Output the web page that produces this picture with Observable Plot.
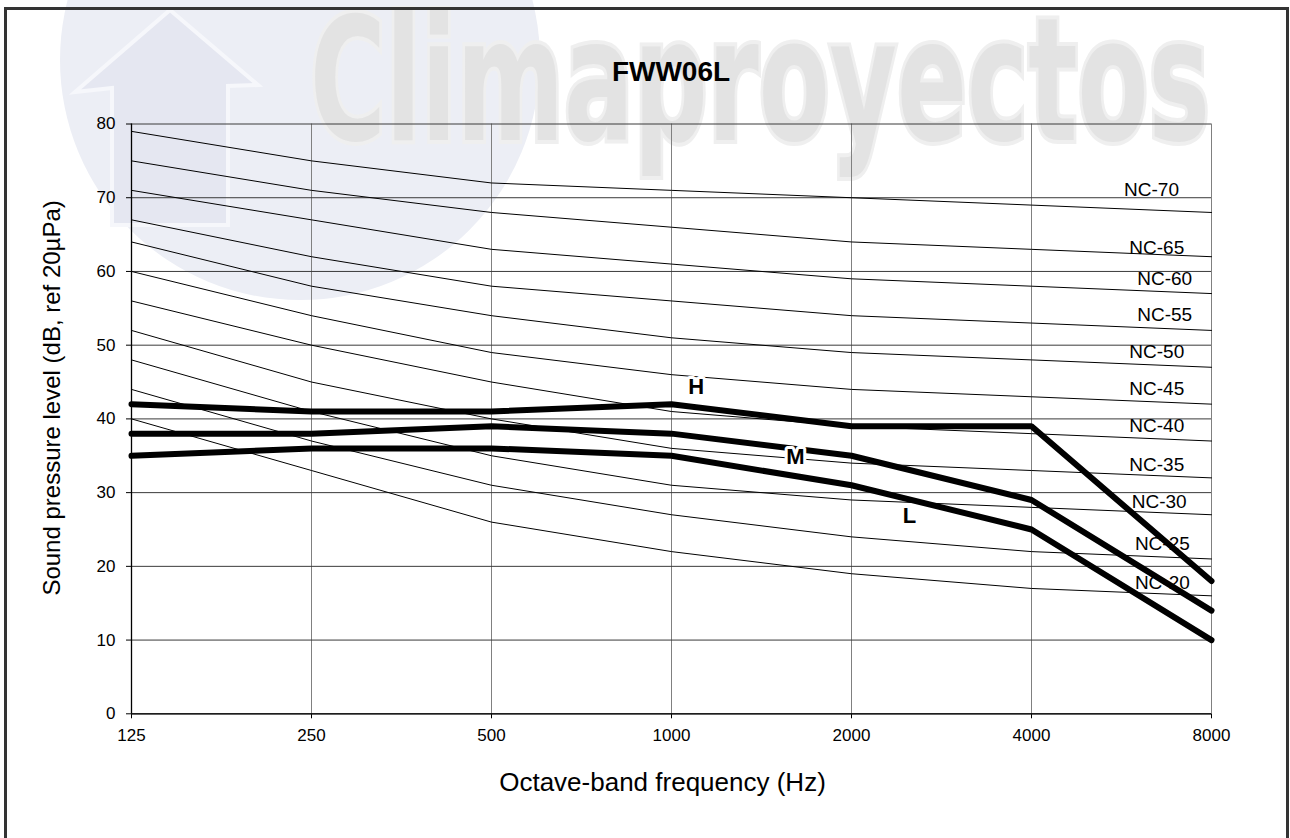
<!DOCTYPE html>
<html>
<head>
<meta charset="utf-8">
<script src="https://cdn.jsdelivr.net/npm/d3@7"></script>
<script src="https://cdn.jsdelivr.net/npm/@observablehq/plot@0.6"></script>
<style>
  body { margin: 0; background: #fff; }
  #wrap { position: relative; width: 1290px; height: 838px; overflow: hidden; font-family: "Liberation Sans", Arial, sans-serif; background: #fff; }
  #bg { position: absolute; left: 0; top: 0; }
  #frame { position: absolute; left: 4px; top: 7px; width: 1285px; height: 900px; border: 3px solid #333; box-sizing: border-box; }
  #title { position: absolute; left: 471px; width: 400px; top: 56px; text-align: center; font-weight: bold; font-size: 28px; line-height: 32px; color: #000; }
  #chart { position: absolute; left: 0; top: 100px; }
</style>
</head>
<body>
<div id="wrap">
  <svg id="bg" width="1290" height="838">
    <circle cx="300" cy="60" r="240" fill="#eceef5"></circle>
    <polygon points="170,10 258,85 228,86 228,225 112,225 112,88 75,92" fill="#e5e7f1" stroke="#f6f7fb" stroke-width="4"></polygon>
    <text x="310" y="140" font-family="'Liberation Sans Narrow', 'DejaVu Sans Condensed', 'Liberation Sans', sans-serif" font-weight="bold" font-size="172" textLength="900" lengthAdjust="spacingAndGlyphs" fill="#e3e3e3" stroke="#efefef" stroke-width="8" paint-order="stroke">Climaproyectos</text>
  </svg>
  <div id="frame"></div>
  <div id="title">FWW06L</div>
  <div id="chart"></div>
</div>
<script>
// Octave-band centre frequencies (Hz)
const freqs = [125, 250, 500, 1000, 2000, 4000, 8000];
const yTicks = [0, 10, 20, 30, 40, 50, 60, 70, 80];

// Unit sound pressure levels (dB) at fan speeds H / M / L
const seriesNames = ["H", "M", "L"];
const levelH = [42, 41, 41, 42, 39, 39, 18];
const levelM = [38, 38, 39, 38, 35, 29, 14];
const levelL = [35, 36, 36, 35, 31, 25, 10];

// Series label anchors (Hz, dB)
const seriesLabelX = [1100, 1612, 2500];
const seriesLabelY = [44.3, 34.9, 26.9];

// NC reference curves (dB) at 125..8000 Hz
const ncLevels = [20, 25, 30, 35, 40, 45, 50, 55, 60, 65, 70];
const nc20 = [40, 33, 26, 22, 19, 17, 16];
const nc25 = [44, 37, 31, 27, 24, 22, 21];
const nc30 = [48, 41, 35, 31, 29, 28, 27];
const nc35 = [52, 45, 40, 36, 34, 33, 32];
const nc40 = [56, 50, 45, 41, 39, 38, 37];
const nc45 = [60, 54, 49, 46, 44, 43, 42];
const nc50 = [64, 58, 54, 51, 49, 48, 47];
const nc55 = [67, 62, 58, 56, 54, 53, 52];
const nc60 = [71, 67, 63, 61, 59, 58, 57];
const nc65 = [75, 71, 68, 66, 64, 63, 62];
const nc70 = [79, 75, 72, 71, 70, 69, 68];

// NC label anchors (Hz, dB)
const ncLabelX = [6620, 6620, 6540, 6480, 6480, 6480, 6480, 6680, 6680, 6480, 6350];
const ncLabelY = [17.7, 23.1, 28.7, 33.7, 39.1, 44.1, 49.1, 54.1, 59.0, 63.2, 71.1];

const xTitle = "Octave-band frequency (Hz)";
const yTitle = "Sound pressure level (dB, ref 20µPa)";

const ncCurves = [nc20, nc25, nc30, nc35, nc40, nc45, nc50, nc55, nc60, nc65, nc70];
const seriesValues = [levelH, levelM, levelL];

const ncRows = [];
ncLevels.forEach((lv, i) => freqs.forEach((f, j) => ncRows.push({nc: lv, f, v: ncCurves[i][j]})));
const rows = [];
seriesNames.forEach((s, i) => freqs.forEach((f, j) => rows.push({series: s, f, v: seriesValues[i][j]})));
const ncLabels = ncLevels.map((lv, i) => ({text: "NC-" + lv, f: ncLabelX[i], v: ncLabelY[i]}));
const seriesLabels = seriesNames.map((s, i) => ({text: s, f: seriesLabelX[i], v: seriesLabelY[i]}));

const chart = Plot.plot({
  width: 1290,
  height: 738,
  marginLeft: 131,
  marginRight: 79,
  marginTop: 23.5,
  marginBottom: 124.7,
  style: {background: "transparent", fontFamily: "'Liberation Sans', Arial, sans-serif", fontSize: "17px", color: "#000", overflow: "visible"},
  x: {type: "log", base: 2, domain: [125, 8000], ticks: freqs, tickFormat: d => String(d), tickSize: 5, tickPadding: 10, label: null},
  y: {domain: [0, 80], ticks: yTicks, tickSize: 5, tickPadding: 11, label: null},
  marks: [
    Plot.ruleX(freqs, {stroke: "#808080", strokeWidth: 1}),
    Plot.ruleY(yTicks, {stroke: "#3a3a3a", strokeWidth: 1}),
    Plot.line(ncRows, {x: "f", y: "v", z: "nc", stroke: "#000", strokeWidth: 1}),
    Plot.ruleX([125], {stroke: "#000", strokeWidth: 1.3}),
    Plot.ruleY([0], {stroke: "#000", strokeWidth: 1.3}),
    Plot.text(ncLabels, {x: "f", y: "v", text: "text", fontSize: 19, fill: "#000", textAnchor: "middle"}),
    Plot.line(rows, {x: "f", y: "v", z: "series", stroke: "#000", strokeWidth: 6, strokeLinejoin: "miter", strokeLinecap: "round"}),
    Plot.text(seriesLabels, {x: "f", y: "v", text: "text", fontSize: 22, fontWeight: "bold", fill: "#fff", stroke: "#fff", strokeWidth: 6, textAnchor: "middle"}),
    Plot.text(seriesLabels, {x: "f", y: "v", text: "text", fontSize: 22, fontWeight: "bold", fill: "#000", textAnchor: "middle"}),
    Plot.text([xTitle], {text: d => d, frameAnchor: "bottom", dx: -9, dy: 69, fontSize: 26, textAnchor: "middle", lineAnchor: "middle", fill: "#000"}),
    Plot.text([yTitle], {text: d => d, frameAnchor: "left", dx: -79, dy: -21, rotate: -90, fontSize: 24, textAnchor: "middle", lineAnchor: "middle", fill: "#000"})
  ]
});
document.getElementById("chart").appendChild(chart);
</script>
</body>
</html>
